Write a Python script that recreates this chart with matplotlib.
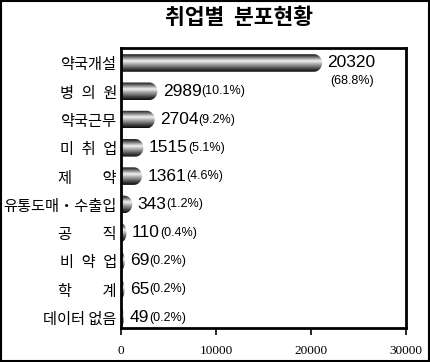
"""취업별 분포현황 - horizontal cylinder bar chart."""

import numpy as np
import matplotlib
matplotlib.use("Agg")
from matplotlib import pyplot as plt
from matplotlib.path import Path
from matplotlib.patches import PathPatch, Rectangle
from matplotlib.colors import LinearSegmentedColormap

plt.rcParams["font.family"] = ["Noto Sans CJK KR", "DejaVu Sans"]

# ---- data ----
categories = ["약국개설", "병\u2002의\u2002원", "약국근무", "미\u2002취\u2002업",
              "제\u3000\u3000약", "유통도매・수출입", "공\u3000\u3000직",
              "비\u2002약\u2002업", "학\u3000\u3000계", "데이터 없음"]
counts = [20320, 2989, 2704, 1515, 1361, 343, 110, 69, 65, 49]
percents = ["(68.8%)", "(10.1%)", "(9.2%)", "(5.1%)", "(4.6%)",
            "(1.2%)", "(0.4%)", "(0.2%)", "(0.2%)", "(0.2%)"]
x_ticks = [0, 10000, 20000, 30000]

fig = plt.figure(figsize=(4.3, 3.62), dpi=100)
ax = fig.add_axes([121 / 430, 1 - 328 / 362, 285 / 430, 280 / 362])

xmax = 30000
px_per_unit = 285 / xmax
bar_h = 0.62

# metallic cylinder shading (top to bottom)
cyl = LinearSegmentedColormap.from_list(
    "cyl", [(0.0, "#111111"), (0.12, "#555555"), (0.38, "#f2f2f2"),
            (0.6, "#9a9a9a"), (0.85, "#3a3a3a"), (1.0, "#0a0a0a")])
grad = np.linspace(0, 1, 64).reshape(-1, 1)

bars = ax.barh(range(len(categories)), counts, height=bar_h, color="none", edgecolor="none")
caps = []
for bar in bars:
    w = bar.get_width()
    y0 = bar.get_y()
    yc = y0 + bar_h / 2
    w_px = w * px_per_unit
    cap_px = min(8.0, 3.5 * w_px + 0.8)
    cap = cap_px / px_per_unit
    # rectangle body + half-ellipse end cap
    t = np.linspace(np.pi / 2, -np.pi / 2, 30)
    verts = [(0, y0), (w, y0)]
    verts += [(w + cap * np.cos(a), yc - (bar_h / 2) * np.sin(a)) for a in t]
    verts += [(0, y0 + bar_h), (0, y0)]
    codes = [Path.MOVETO] + [Path.LINETO] * (len(verts) - 2) + [Path.CLOSEPOLY]
    clip = PathPatch(Path(verts, codes), facecolor="none", edgecolor="none")
    ax.add_patch(clip)
    im = ax.imshow(grad, cmap=cyl, aspect="auto", interpolation="bilinear",
                   extent=(0, w + cap, y0 + bar_h, y0), zorder=2)
    im.set_clip_path(clip)
    caps.append(cap)

ax.set_xlim(0, xmax)
ax.set_ylim(len(categories) - 1 + 0.37, -0.53)

# value labels
for i, (bar, cap, n, p) in enumerate(zip(bars, caps, counts, percents)):
    x_end = bar.get_width() + cap
    t = ax.annotate(f"{n}", xy=(x_end, i), xytext=(4, 0), textcoords="offset points",
                    va="center", ha="left", fontsize=12.5, family="Liberation Sans",
                    color="black")
    if i == 0:
        ax.annotate(p, xy=(0.5, 0), xycoords=t, xytext=(0, -3), textcoords="offset points",
                    va="top", ha="center", fontsize=9, family="Liberation Sans")
    else:
        ax.annotate(p, xy=(1, 0.1), xycoords=t, va="bottom", ha="left",
                    fontsize=9, family="Liberation Sans")

# axes styling
ax.set_yticks(range(len(categories)))
ax.set_yticklabels(categories, fontsize=11)
ax.tick_params(axis="y", length=0, pad=3)
ax.set_xticks(x_ticks)
ax.set_xticklabels([str(v) for v in x_ticks], family="Liberation Serif", fontsize=9.5)
ax.tick_params(axis="x", direction="out", length=5, width=1.2, pad=7)
for s in ax.spines.values():
    s.set_linewidth(2)

fig.text(239 / 430, 1 - 18 / 362, "취업별  분포현황", ha="center", va="center",
         fontsize=15.5, fontweight="bold")

# outer border
fig.patches.append(Rectangle((0.0015, 0.002), 0.997, 0.996, transform=fig.transFigure,
                             fill=False, edgecolor="black", linewidth=1.5))

fig.savefig("out.png", dpi=100)
